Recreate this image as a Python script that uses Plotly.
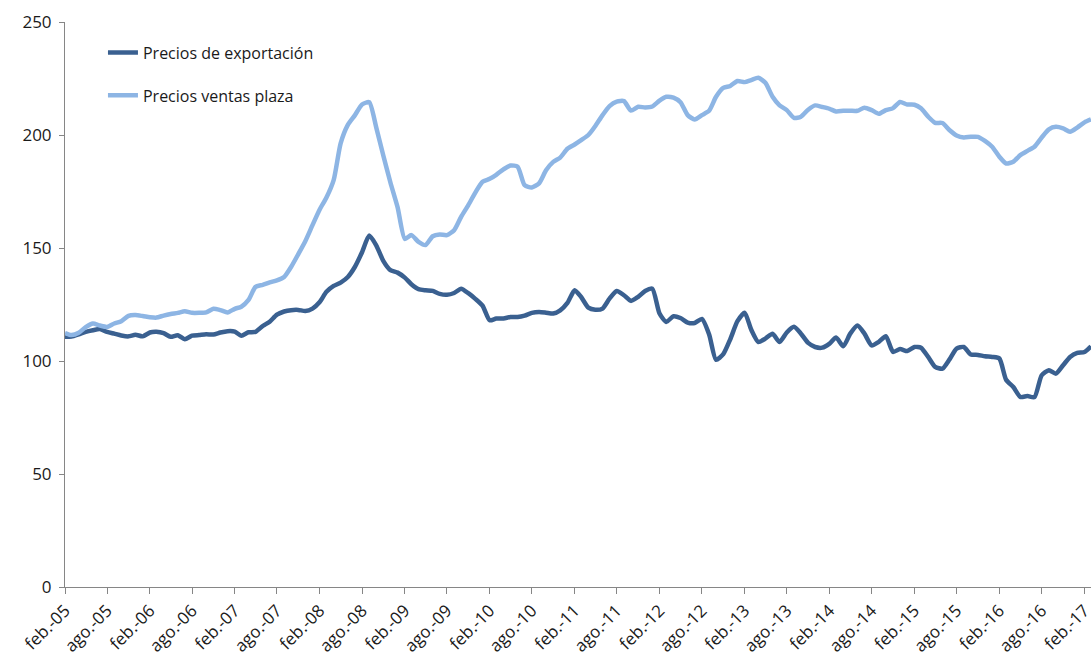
import pandas as pd
import plotly.graph_objects as go

# Monthly categories: feb-2005 .. mar-2017
months = pd.date_range("2005-02-01", "2017-03-01", freq="MS")

precios_exportacion = [
    110.7, 110.8, 111.8, 112.9, 113.6, 114.1, 112.9, 112.1, 111.3, 110.9, 111.6, 110.9,
    112.6, 112.9, 112.3, 110.7, 111.4, 109.6, 111.2, 111.5, 111.8, 111.7, 112.6, 113.2,
    113.0, 111.2, 112.7, 112.9, 115.5, 117.4, 120.5, 121.9, 122.5, 122.6, 122.1, 123.2,
    126.1, 130.6, 133.2, 134.7, 137.2, 141.6, 148.1, 155.5, 151.2, 144.2, 140.2, 139.1,
    136.9, 134.0, 131.8, 131.3, 131.0, 129.7, 129.3, 130.1, 132.0, 130.0, 127.5, 124.5,
    118.0, 118.8, 118.8, 119.5, 119.5, 120.1, 121.3, 121.7, 121.4, 121.0, 122.4, 125.7,
    131.3, 128.3, 123.6, 122.7, 123.2, 127.6, 131.0, 129.1, 126.6, 128.4, 131.0, 132.0,
    121.0, 117.3, 119.8, 119.0, 117.0, 116.8, 118.6, 111.8, 100.5, 103.0, 109.6, 117.6,
    121.4, 113.9, 108.4, 109.9, 112.1, 108.4, 112.6, 115.1, 112.1, 108.0, 106.2, 105.9,
    107.7, 110.4, 106.5, 112.1, 115.7, 112.1, 106.9, 108.5, 111.0, 104.0, 105.3, 104.4,
    106.2, 105.9, 101.8, 97.4, 96.6, 100.6, 105.5, 106.2, 102.9, 102.7, 102.1, 101.8,
    101.1, 91.7, 88.5, 84.1, 84.5, 84.0, 93.7, 95.9, 94.4, 98.1, 101.8, 103.6,
    104.0, 106.5,
]

precios_ventas_plaza = [
    112.4, 111.5, 112.5, 115.0, 116.6, 115.7, 115.1, 116.6, 117.6, 120.0, 120.3, 119.9,
    119.4, 119.2, 120.1, 120.8, 121.3, 122.0, 121.3, 121.3, 121.5, 123.1, 122.5, 121.5,
    123.1, 124.0, 127.0, 132.8, 133.7, 134.8, 135.7, 137.2, 141.6, 147.3, 153.0, 160.1,
    167.0, 172.3, 180.0, 196.3, 204.5, 208.7, 213.5, 214.5, 203.4, 190.7, 179.0, 168.0,
    154.0, 155.7, 152.7, 151.3, 155.2, 156.0, 155.7, 157.9, 163.8, 169.0, 174.5, 179.3,
    180.6, 182.4, 184.8, 186.5, 186.0, 177.8, 176.8, 178.6, 184.4, 188.1, 190.0, 193.9,
    195.8, 197.7, 200.0, 204.0, 208.8, 212.8, 214.8, 215.0, 210.8, 212.5, 212.2, 212.6,
    215.2, 216.9, 216.5, 214.5, 208.8, 206.9, 208.8, 210.7, 216.9, 220.8, 221.7, 223.9,
    223.4, 224.3, 225.3, 223.1, 216.9, 213.1, 211.0, 207.6, 208.1, 211.2, 213.1, 212.4,
    211.6, 210.4, 210.7, 210.7, 210.7, 212.1, 211.0, 209.4, 211.0, 211.9, 214.6, 213.5,
    213.4, 211.8, 208.1, 205.4, 205.3, 202.2, 199.8, 198.9, 199.2, 199.2, 197.4, 194.8,
    190.4, 187.4, 188.2, 191.1, 193.0, 194.8, 198.9, 202.5, 203.6, 202.9, 201.4, 203.3,
    205.6, 206.9,
]

tick_dates = pd.date_range("2005-02-01", "2017-02-01", freq="6MS")
tick_labels = [
    "feb.-05", "ago.-05", "feb.-06", "ago.-06", "feb.-07", "ago.-07", "feb.-08",
    "ago.-08", "feb.-09", "ago.-09", "feb.-10", "ago.-10", "feb.-11", "ago.-11",
    "feb.-12", "ago.-12", "feb.-13", "ago.-13", "feb.-14", "ago.-14", "feb.-15",
    "ago.-15", "feb.-16", "ago.-16", "feb.-17",
]

font_family = "Open Sans, DejaVu Sans, sans-serif"

fig = go.Figure()
fig.add_trace(go.Scatter(
    x=months, y=precios_exportacion, mode="lines", name="Precios de exportación",
    line=dict(color="#3A6090", width=4.5, shape="spline", smoothing=0.6),
    legendgroup="a",
))
fig.add_trace(go.Scatter(
    x=months, y=precios_ventas_plaza, mode="lines", name="Precios ventas plaza",
    line=dict(color="#8DB5E4", width=4.5, shape="spline", smoothing=0.6),
    legendgroup="b",
))

fig.update_layout(
    width=1091, height=664,
    margin=dict(l=65, r=0, t=22, b=77, autoexpand=False),
    paper_bgcolor="white", plot_bgcolor="white",
    font=dict(family=font_family, color="#1a1a1a"),
    showlegend=True,
    legend=dict(
        x=0.037, y=0.976, xanchor="left", yanchor="top",
        bgcolor="rgba(0,0,0,0)", traceorder="grouped", tracegroupgap=19,
        font=dict(size=16, family=font_family, color="#1a1a1a"),
        itemwidth=30,
    ),
)

fig.update_xaxes(
    type="date", automargin=False,
    range=[months[0], months[-1]],
    tickmode="array", tickvals=tick_dates, ticktext=tick_labels,
    tickangle=-45, ticks="outside", ticklen=6, tickcolor="#868686",
    showline=True, linecolor="#868686", linewidth=1,
    showgrid=False, zeroline=False, ticklabeloverflow="allow",
    tickfont=dict(size=17, family=font_family, color="#1a1a1a"),
)
fig.update_yaxes(
    range=[0, 250], dtick=50, tick0=0, automargin=False,
    ticks="outside", ticklen=5, tickcolor="#868686",
    showline=True, linecolor="#868686", linewidth=1,
    showgrid=False, zeroline=False,
    ticklabelstandoff=4,
    tickfont=dict(size=17, family=font_family, color="#1a1a1a"),
)

fig.write_html(
    "out.html",
    config={"displayModeBar": False},
    post_script="document.body.style.margin='0';document.body.style.overflow='hidden';",
)
